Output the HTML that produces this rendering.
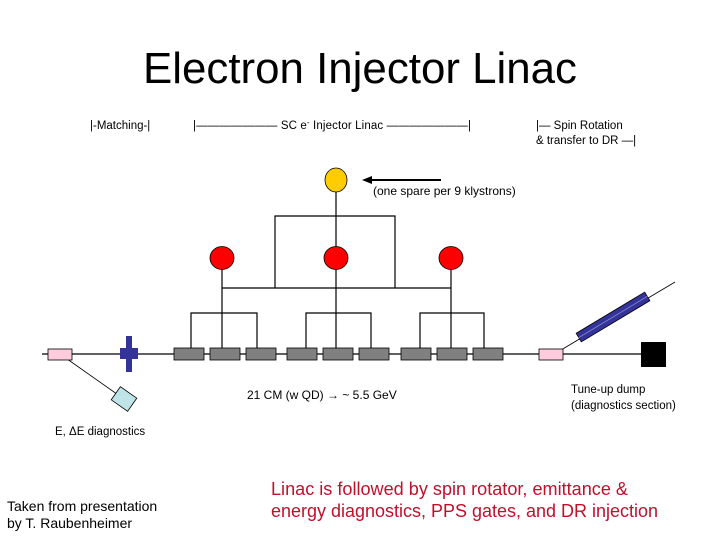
<!DOCTYPE html>
<html><head><meta charset="utf-8"><style>
body{margin:0;background:#fff;}
svg{display:block;font-family:"Liberation Sans",sans-serif;}
</style></head><body>
<svg width="720" height="540" viewBox="0 0 720 540" xmlns="http://www.w3.org/2000/svg">
<text x="360" y="83" font-size="44" text-anchor="middle" textLength="434" lengthAdjust="spacingAndGlyphs">Electron Injector Linac</text>
<g font-size="11.5" fill="#000">
<text x="90" y="129">|-Matching-|</text>
<text x="193" y="129" textLength="278" lengthAdjust="spacing">|——————— SC e<tspan font-size="8" dy="-4">-</tspan><tspan dy="4"> Injector Linac ———————|</tspan></text>
<text x="536" y="129">|— Spin Rotation</text>
<text x="536" y="144">&amp; transfer to DR —|</text>
<text x="373" y="195" font-size="12">(one spare per 9 klystrons)</text>
<text x="247" y="399" font-size="12">21 CM (w QD) → ~ 5.5 GeV</text>
<text x="571" y="393">Tune-up dump</text>
<text x="571" y="409">(diagnostics section)</text>
<text x="55" y="435">E, ΔE diagnostics</text>
</g>
<g stroke="#000" stroke-width="1.2" fill="none">
<line x1="441" y1="180" x2="368" y2="180" stroke-width="2"/>
<line x1="336" y1="192" x2="336" y2="354"/>
<polyline points="275,288 275,216 395,216 395,288"/>
<line x1="222" y1="288" x2="451" y2="288"/>
<line x1="222" y1="268" x2="222" y2="354"/>
<line x1="451" y1="268" x2="451" y2="354"/>
<polyline points="191,354 191,313 257,313 257,354"/>
<polyline points="306,354 306,313 371,313 371,354"/>
<polyline points="420,354 420,313 484,313 484,354"/>
<line x1="42" y1="354" x2="641" y2="354"/>
<line x1="60" y1="354" x2="124" y2="399" stroke-width="0.8"/>
<line x1="551" y1="356" x2="675" y2="282" stroke-width="0.8"/>
</g>
<polygon points="362,180 372,176 372,184" fill="#000"/>
<ellipse cx="336" cy="180" rx="11" ry="12" fill="#ffcc00" stroke="#000" stroke-width="0.8"/>
<g fill="#ff0000" stroke="#000" stroke-width="0.8">
<ellipse cx="222" cy="258" rx="12" ry="11.5"/>
<ellipse cx="336" cy="258" rx="12" ry="11.5"/>
<ellipse cx="451" cy="258" rx="12" ry="11.5"/>
</g>
<g fill="#808080" stroke="#000" stroke-width="0.8">
<rect x="174" y="348" width="30" height="12"/>
<rect x="210" y="348" width="30" height="12"/>
<rect x="246" y="348" width="30" height="12"/>
<rect x="287" y="348" width="30" height="12"/>
<rect x="323" y="348" width="30" height="12"/>
<rect x="359" y="348" width="30" height="12"/>
<rect x="401" y="348" width="30" height="12"/>
<rect x="437" y="348" width="30" height="12"/>
<rect x="473" y="348" width="30" height="12"/>
</g>
<rect x="48" y="349" width="24" height="11" fill="#ffccdd" stroke="#000" stroke-width="0.8"/>
<rect x="539" y="349" width="24" height="11" fill="#ffccdd" stroke="#000" stroke-width="0.8"/>
<rect x="641" y="342" width="25" height="25" fill="#000"/>
<rect x="126" y="336" width="6" height="36" fill="#333399"/>
<rect x="120" y="348" width="18" height="11" fill="#333399"/>
<rect x="-10" y="-8" width="20" height="16" fill="#bfe4e8" stroke="#000" stroke-width="0.8" transform="translate(124,399) rotate(35)"/>
<g transform="translate(613,317) rotate(-31)">
<rect x="-40" y="-5" width="80" height="10" fill="#333399" stroke="#000" stroke-width="0.8"/>
<line x1="-40" y1="0" x2="40" y2="0" stroke="#8888cc" stroke-width="0.8"/>
</g>
<g font-size="14">
<text x="7" y="511">Taken from presentation</text>
<text x="7" y="528">by T. Raubenheimer</text>
</g>
<g font-size="18" fill="#c0102a">
<text x="271" y="495" textLength="357" lengthAdjust="spacingAndGlyphs">Linac is followed by spin rotator, emittance &amp;</text>
<text x="271" y="517" textLength="387" lengthAdjust="spacingAndGlyphs">energy diagnostics, PPS gates, and DR injection</text>
</g>
</svg>
</body></html>
